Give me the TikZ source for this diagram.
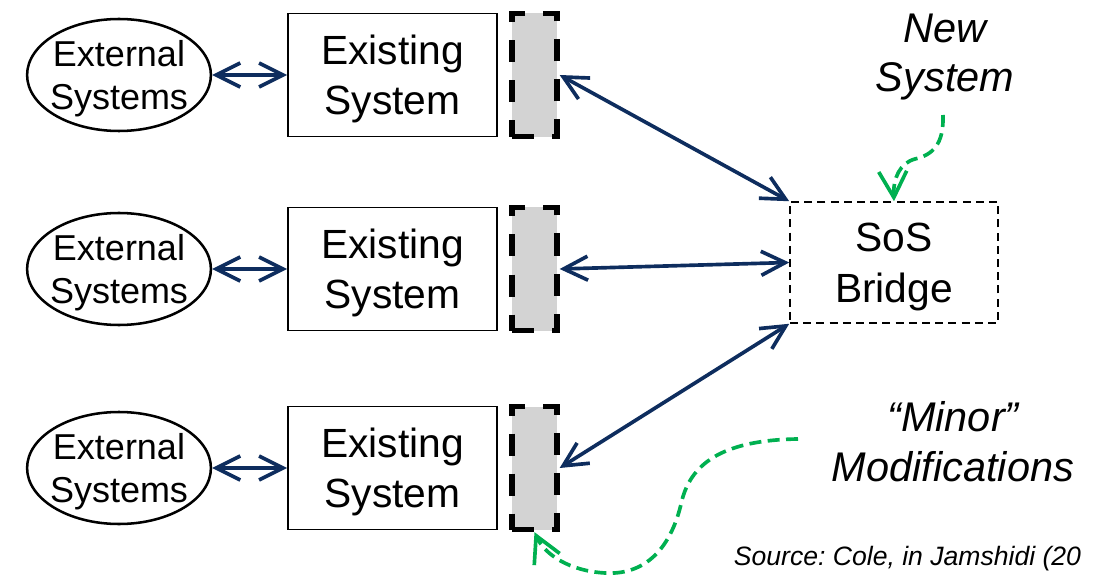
\documentclass[tikz,border=0pt]{standalone}
\usepackage{fontspec}
\setmainfont{Liberation Sans}
\usetikzlibrary{arrows.meta,shapes.geometric}
\definecolor{navy}{HTML}{0E2D5E}
\definecolor{mygreen}{HTML}{00B050}
\definecolor{adpgray}{HTML}{D3D3D3}
\frenchspacing
\tikzset{
  extsys/.style={draw,ellipse,line width=1.8pt,inner xsep=-1mm,inner ysep=0pt,minimum width=44mm,minimum height=28mm,align=center,text depth=0pt,font=\fontsize{25.6}{31}\selectfont},
  oldsys/.style={draw,rectangle,line width=1.2pt,inner sep=0pt,minimum width=52.25mm,minimum height=30.75mm,align=center,text depth=0pt,font=\fontsize{29}{35.5}\selectfont},
  adapter/.style={rectangle,fill=adpgray,draw,line width=3.8pt,dash pattern=on 5.5mm off 4.5mm,inner sep=0pt,minimum width=11.25mm,minimum height=30.75mm},
  bridgebox/.style={draw,rectangle,line width=1.1pt,dash pattern=on 2mm off 1.3mm,inner sep=0pt,minimum width=52mm,minimum height=30.25mm,align=center,text depth=0pt,font=\fontsize{29}{36}\selectfont},
  link/.style={navy,line width=2.6pt,{Straight Barb[length=6mm,width=6mm]}-{Straight Barb[length=6mm,width=6mm]}},
  hint/.style={mygreen,line width=2.6pt,dash pattern=on 3mm off 1.6mm,-{Straight Barb[length=6.5mm,width=7mm]}},
  note/.style={align=center,font=\fontsize{29.5}{35.5}\selectfont\itshape}
}
\begin{document}
\begin{tikzpicture}[x=0.25mm,y=-0.25mm]
\useasboundingbox (0,0) rectangle (1094,575);
% three legacy rows
\foreach \r/\y in {1/75,2/269,3/468} {
  \node[extsys] (ext\r) at (119,\y) {External\\Systems};
  \node[oldsys] (sys\r) at (392.5,\y) {Existing\\System};
  \node[adapter] (adp\r) at (534.5,\y) {};
  \draw[link] (ext\r) -- (sys\r);
}
\node[bridgebox] (bridge) at (894,262.5) {SoS\\Bridge};
\draw[link] (adp1.east) -- (bridge.north west);
\draw[link] (adp2.east) -- (bridge.west);
\draw[link] (adp3.east) -- (bridge.south west);
% annotations
\node[note] (newsys) at (945,57) {New\\System};
\node[note] (minor) at (953,442) {``Minor''\\Modifications};
\node[anchor=base west,font=\fontsize{18.9}{22}\selectfont\itshape] (src) at (729,565) {Source: Cole, in Jamshidi (20};
\coordinate (newtail) at (943,115);
\coordinate (minortail) at (798,439);
\draw[hint] (newtail) .. controls (944,145) and (932,155) .. (915,159) .. controls (900,163) and (893,178) .. (bridge.north);
\draw[hint] (minortail) .. controls (725,440) and (692,462) .. (682,500) .. controls (670,555) and (640,575) .. (605,573) .. controls (570,571) and (545,555) .. (adp3.south);
\end{tikzpicture}
\end{document}
